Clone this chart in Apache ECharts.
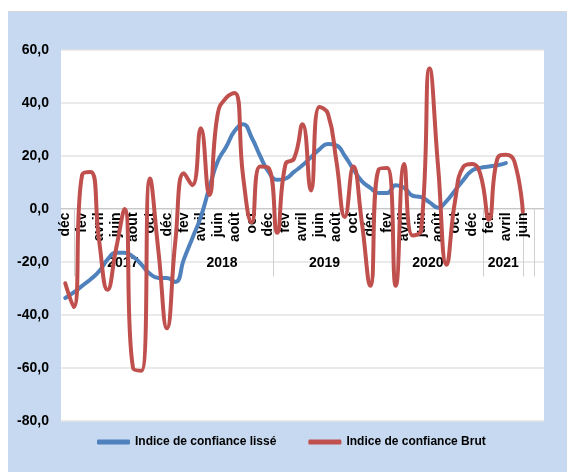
<!DOCTYPE html>
<html>
<head>
<meta charset="utf-8">
<script src="https://cdn.jsdelivr.net/npm/echarts@6/dist/echarts.min.js"></script>
<style>
html,body{margin:0;padding:0;background:#ffffff;width:567px;height:472px;overflow:hidden;}
#chart{position:absolute;left:8px;top:11px;width:559px;height:461px;background:#c6d9f0;border-top:1px solid #d6d6d6;box-sizing:border-box;}
</style>
</head>
<body>
<div id="chart"></div>
<script>
// Months from déc 2016 to août 2021
const months = ['déc','janv','fev','mars','avril','mai','juin','juil','août','sept','oct','nov',
  'déc','janv','fev','mars','avril','mai','juin','juil','août','sept','oct','nov',
  'déc','janv','fév','mars','avril','mai','juin','juil','août','sept','oct','nov',
  'déc','janv','fev','mars','avril','mai','juin','juil','août','sept','oct','nov',
  'déc','janv','feb','mars','avril','mai','juin','juil','août'];
const lastLabelledIndex = 54;
const years = ['2017','2018','2019','2020','2021'];
const yearCenters = [7.3, 19, 31.1, 43.3, 52.2];
const yearSeparators = [1.6, 13, 25, 37, 49.8, 54.6, 55.8];
const yTicks = {min: -80, max: 60, interval: 20};

const indiceLisse = [-33.6,-31.5,-29,-26.5,-23.5,-19,-16.5,-16.5,-18,-21,-24.5,-26,-26,-27.5,
  -19,-11,-3,8,18,23.5,29.5,32,27,20,14,11,11.5,14,16.5,19.5,22.5,24.5,24,20,15,10.5,8,6,6,9,8,5,4.5,2.5,0.5,3,7,11,14.5,15.5,16,16.5,17.3,null,null,null,null];
const indiceBrut = [-28,-37,13,14,-12,-30.5,-15,0,-60,-61,11.5,-16,-45,-12,13.5,9,30.5,5.3,36,42,43.8,12,-5,16,15.5,-9,17,19,32,7,38.5,36,18,-3,16,-5,-29,15,15.5,-29,17,-10,-8,53,16,-21,3,16,17,13,-4,19,20.5,18,-1,null,null];

const FONT = '"Liberation Sans","Arial",sans-serif';

const W = 559, H = 461;
const G = {left: 53, right: 23, top: 38, bottom: 51};
const plotH = H - G.top - G.bottom;
const zeroOffset = -plotH * (0 - yTicks.min) / (yTicks.max - yTicks.min);

const chart = echarts.init(document.getElementById('chart'), null, {renderer:'canvas'});
chart.setOption({
  animation: false,
  backgroundColor: 'transparent',
  grid: Object.assign({show: true, backgroundColor: '#ffffff', borderWidth: 0}, G),
  legend: {
    bottom: 19, left: 84, itemGap: 32, itemWidth: 33, itemHeight: 5, icon: 'roundRect',
    textStyle: {fontFamily: FONT, fontWeight: 'bold', fontSize: 12, color: '#000'},
    data: ['Indice de confiance lissé','Indice de confiance Brut']
  },
  xAxis: [{
    type: 'category', data: months, boundaryGap: true, position: 'bottom', offset: zeroOffset,
    axisLine: {onZero: false, lineStyle: {color: '#c8c8c8', width: 1}},
    axisTick: {show: false},
    axisLabel: {
      interval: function(i){ return i % 2 === 0 && i <= lastLabelledIndex; },
      rotate: 90, margin: 4, fontFamily: FONT, fontWeight: 'bold', fontSize: 14, color: '#000'
    },
    splitLine: {show: false}
  }, {
    type: 'value', min: 0, max: months.length, position: 'bottom', offset: zeroOffset,
    axisLine: {show: true, onZero: false, lineStyle: {color: '#c8c8c8', width: 1}},
    axisTick: {show: true, customValues: yearSeparators, length: 68, lineStyle: {color: '#d0d0d0', width: 1}},
    axisLabel: {
      customValues: yearCenters, margin: 48,
      formatter: function(v){ const k = yearCenters.indexOf(v); return k >= 0 ? years[k] : ''; },
      fontFamily: FONT, fontWeight: 'bold', fontSize: 14, color: '#000'
    },
    splitLine: {show: false}
  }],
  yAxis: {
    type: 'value', min: yTicks.min, max: yTicks.max, interval: yTicks.interval,
    axisLine: {show: false, onZero: false}, axisTick: {show: false},
    axisLabel: {
      margin: 12, fontFamily: FONT, fontWeight: 'bold', fontSize: 14, color: '#000',
      formatter: function(v){ return v.toFixed(1).replace('.', ','); }
    },
    splitLine: {lineStyle: {color: '#e3e3e3', width: 1.5}}
  },
  series: [{
    name: 'Indice de confiance lissé', type: 'line', data: indiceLisse, smooth: 0.5,
    showSymbol: false, symbol: 'none', connectNulls: false,
    lineStyle: {color: '#4f81bd', width: 4, cap: 'round'}, itemStyle: {color: '#4f81bd'}
  }, {
    name: 'Indice de confiance Brut', type: 'line', data: indiceBrut, smooth: 0.5,
    showSymbol: false, symbol: 'none', connectNulls: false,
    lineStyle: {color: '#c0504d', width: 4, cap: 'round'}, itemStyle: {color: '#c0504d'}
  }]
});
</script>
</body>
</html>
